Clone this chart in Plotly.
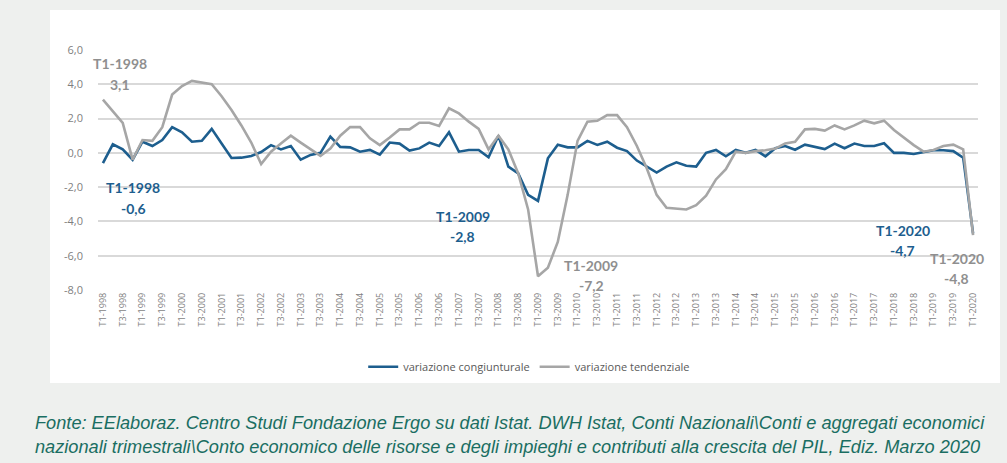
import plotly.graph_objects as go

# quarters T1-1998 .. T1-2020
quarters = ['T%d-%d' % (q, y) for y in range(1998, 2021) for q in (1, 2, 3, 4)][:89]

congiunturale = [
    -0.6, 0.5, 0.2, -0.4, 0.65, 0.4, 0.75, 1.5, 1.2, 0.65, 0.7, 1.4, 0.55, -0.3, -0.28, -0.18,
    0.05, 0.45, 0.2, 0.4, -0.4, -0.12, 0.0, 0.95, 0.35, 0.32, 0.07, 0.17, -0.1, 0.6, 0.54, 0.13,
    0.26, 0.6, 0.4, 1.2, 0.07, 0.17, 0.17, -0.26, 1.0, -0.8, -1.2, -2.45, -2.8, -0.32, 0.48, 0.32,
    0.32, 0.7, 0.46, 0.65, 0.3, 0.1, -0.45, -0.8, -1.15, -0.8, -0.55, -0.75, -0.8, 0.0, 0.17, -0.2,
    0.17, 0.0, 0.17, -0.2, 0.27, 0.4, 0.18, 0.48, 0.33, 0.22, 0.54, 0.27, 0.54, 0.4, 0.4, 0.56,
    0.0, 0.0, -0.07, 0.05, 0.15, 0.15, 0.1, -0.28, -4.7]

tendenziale = [
    3.1, 2.4, 1.75, -0.4, 0.75, 0.7, 1.5, 3.4, 3.9, 4.2, 4.1, 4.0, 3.3, 2.5, 1.6, 0.6,
    -0.65, 0.07, 0.55, 1.0, 0.6, 0.2, -0.18, 0.25, 1.0, 1.5, 1.5, 0.85, 0.45, 0.9, 1.37, 1.37,
    1.76, 1.76, 1.57, 2.6, 2.3, 1.82, 1.4, 0.2, 1.0, 0.2, -1.2, -3.3, -7.2, -6.7, -5.2, -2.45,
    0.7, 1.82, 1.87, 2.2, 2.2, 1.5, 0.4, -0.9, -2.45, -3.2, -3.27, -3.3, -3.05, -2.5, -1.55, -0.95,
    0.07, 0.0, 0.1, 0.15, 0.25, 0.55, 0.65, 1.37, 1.4, 1.3, 1.6, 1.37, 1.6, 1.88, 1.72, 1.88,
    1.33, 0.88, 0.45, 0.07, 0.17, 0.4, 0.48, 0.2, -4.8]

y_ticks = [-8, -6, -4, -2, 0, 2, 4, 6]
y_ticktext = ['-8,0', '-6,0', '-4,0', '-2,0', '0,0', '2,0', '4,0', '6,0']

BLUE = '#1d5e8e'
GRAY = '#a6a6a6'

fig = go.Figure()

fig.add_trace(go.Scatter(x=quarters, y=congiunturale, mode='lines',
                         line=dict(color=BLUE, width=2.6),
                         name='variazione congiunturale'))
fig.add_trace(go.Scatter(x=quarters, y=tendenziale, mode='lines',
                         line=dict(color=GRAY, width=2.6),
                         name='variazione tendenziale'))

# callouts: (label, value text, x index, y label, y value, colour)
callouts = [
    ('T1-1998', '3,1', 1.7, 5.23, 4.0, '#8f8f8f'),
    ('T1-1998', '-0,6', 3.05, -2.0, -3.23, BLUE),
    ('T1-2009', '-2,8', 36.4, -3.72, -4.89, BLUE),
    ('T1-2009', '-7,2', 49.4, -6.58, -7.71, '#8f8f8f'),
    ('T1-2020', '-4,7', 80.9, -4.5, -5.7, BLUE),
    ('T1-2020', '-4,8', 86.35, -6.15, -7.32, '#8f8f8f'),
]
for lab, val, xi, yl, yv, col in callouts:
    for txt, yy in ((lab, yl), (val, yv)):
        fig.add_annotation(x=xi, y=yy, xref='x', yref='y', text='<b>%s</b>' % txt,
                           showarrow=False, xanchor='center', yanchor='middle',
                           font=dict(family='Lato, Open Sans, sans-serif', size=14, color=col))

fig.add_annotation(
    x=-0.074, y=-0.606, xref='paper', yref='paper', xanchor='left', yanchor='middle',
    align='left', showarrow=False,
    text='<i>Fonte: EElaboraz. Centro Studi Fondazione Ergo su dati Istat. DWH Istat, Conti Nazionali\\Conti e aggregati economici'
         '<br>nazionali trimestrali\\Conto economico delle risorse e degli impieghi e contributi alla crescita del PIL, Ediz. Marzo 2020</i>',
    font=dict(family='Liberation Sans, Arial', size=18.2, color='#1a6e62'))

# white card behind chart
fig.add_shape(type='rect', xref='paper', yref='paper', x0=-0.0545, x1=1.025, y0=-0.3875, y1=1.167,
              fillcolor='white', line=dict(width=0), layer='below')

fig.update_layout(
    width=1007, height=463,
    margin=dict(l=98, r=29, t=50, b=173),
    paper_bgcolor='#eef0ee', plot_bgcolor='white',
    font=dict(family='Open Sans, sans-serif', color='#7f7f7f'),
    showlegend=True,
    legend=dict(orientation='h', x=0.49, xanchor='center', y=-0.32, yanchor='middle',
                font=dict(size=11, color='#595959'), bgcolor='rgba(0,0,0,0)'),
    xaxis=dict(type='category', range=[-0.5, 88.5], showgrid=False, zeroline=False,
               tickmode='array', tickvals=quarters[::2], ticktext=quarters[::2],
               tickangle=-90, tickfont=dict(size=9, color='#7f7f7f'), ticks=''),
    yaxis=dict(range=[-8, 6], tickmode='array', tickvals=y_ticks, ticktext=y_ticktext,
               showgrid=True, gridcolor='#d9d9d9', gridwidth=1.5, zeroline=False,
               tickfont=dict(size=11, color='#7f7f7f'), ticklabelstandoff=14),
)

fig.write_html('out.html', config={'displayModeBar': False},
               post_script="document.body.style.margin='0';")
